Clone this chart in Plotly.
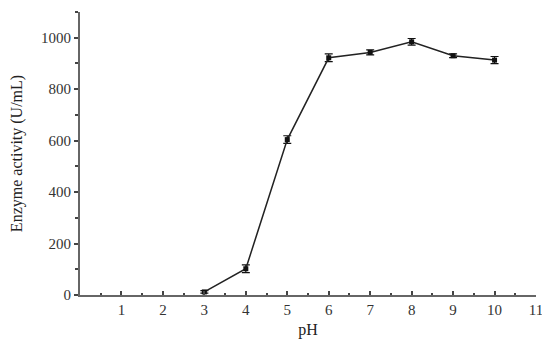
import plotly.graph_objects as go

ph = [3, 4, 5, 6, 7, 8, 9, 10]
activity = [12, 102, 604, 922, 943, 984, 930, 913]
err = [5, 15, 15, 15, 10, 13, 7, 14]

x_ticks = [1, 2, 3, 4, 5, 6, 7, 8, 9, 10, 11]
x_minor = [0.5, 1.5, 2.5, 3.5, 4.5, 5.5, 6.5, 7.5, 8.5, 9.5, 10.5]

fig = go.Figure()
fig.add_trace(go.Scatter(
    x=ph, y=activity, mode='lines+markers',
    line=dict(color='#222', width=1.5),
    marker=dict(symbol='square', size=5, color='#111'),
    error_y=dict(type='data', array=err, color='#111', thickness=1.2, width=4),
    showlegend=False,
))

axis_font = dict(family='Liberation Serif, Times New Roman, serif', size=15, color='#333')

fig.update_xaxes(
    range=[0, 11], tickmode='array', tickvals=x_ticks,
    ticks='inside', ticklen=4, tickwidth=1.5, tickcolor='#444',
    minor=dict(tickmode='array', tickvals=x_minor, ticks='inside', ticklen=2, tickcolor='#444'),
    showline=True, linecolor='#666', linewidth=2.2, showgrid=False, zeroline=False,
    tickfont=axis_font, automargin=False,
    title=dict(text='pH', font=dict(family=axis_font['family'], size=16, color='#222'), standoff=7),
)
fig.update_yaxes(
    range=[0, 1100], tickmode='linear', tick0=0, dtick=200,
    ticks='outside', ticklen=4, tickwidth=1.5, tickcolor='#444',
    minor=dict(dtick=100, ticks='outside', ticklen=3, tickcolor='#444'),
    showline=True, linecolor='#666', linewidth=2.2, showgrid=False, zeroline=False,
    tickfont=axis_font, automargin=False,
    title=dict(text='Enzyme activity (U/mL)', font=dict(family=axis_font['family'], size=16, color='#222'), standoff=26),
)

# page body adds an 8px offset, so the figure is sized to fit inside the window
fig.update_layout(
    width=542, height=342,
    margin=dict(l=72, r=14, t=4, b=55),
    plot_bgcolor='white', paper_bgcolor='white',
)

fig.write_html("out.html")
